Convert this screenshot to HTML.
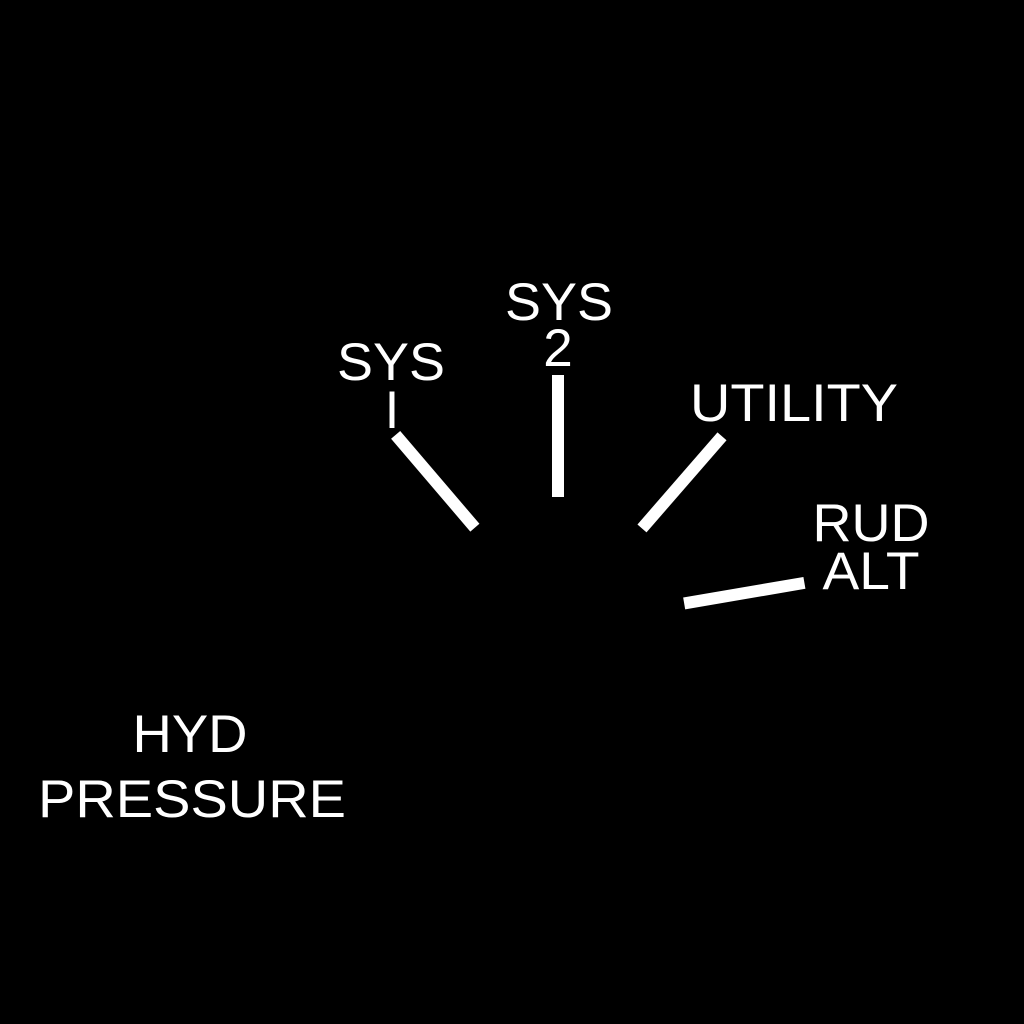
<!DOCTYPE html>
<html><head><meta charset="utf-8"><style>
html,body{margin:0;padding:0;background:#000;width:1024px;height:1024px;overflow:hidden}
svg{display:block}
text{font-family:"Liberation Sans",sans-serif;fill:#fff;font-size:53px;text-anchor:middle}
</style></head><body>
<svg id="chart" width="1024" height="1024" viewBox="0 0 1024 1024">
<rect width="1024" height="1024" fill="#000"/>
<g><text x="391" y="380" textLength="108" lengthAdjust="spacingAndGlyphs">SYS</text><text x="392" y="428">I</text></g>
<g><text x="559" y="320" textLength="108" lengthAdjust="spacingAndGlyphs">SYS</text><text x="558" y="366">2</text></g>
<text x="794" y="421" textLength="208" lengthAdjust="spacingAndGlyphs">UTILITY</text>
<g><text x="871" y="541" textLength="117" lengthAdjust="spacingAndGlyphs">RUD</text><text x="871" y="589" textLength="97" lengthAdjust="spacingAndGlyphs">ALT</text></g>
<g><text x="190" y="752" textLength="115" lengthAdjust="spacingAndGlyphs">HYD</text><text x="192" y="817" textLength="308" lengthAdjust="spacingAndGlyphs">PRESSURE</text></g>
<g id="needles"></g>
</svg>
<script>
const needleNames = ["sys1", "sys2", "utility", "rud-alt"];
const needleAngles = [-40.5, 0, 41, 80.3];
const cx = 558, cy = 625, rInner = 128, rOuter = 250;
const g = document.getElementById('needles');
needleAngles.forEach((a, i) => {
  const rad = a * Math.PI / 180;
  const l = document.createElementNS('http://www.w3.org/2000/svg', 'line');
  l.setAttribute('x1', cx + rInner * Math.sin(rad));
  l.setAttribute('y1', cy - rInner * Math.cos(rad));
  l.setAttribute('x2', cx + rOuter * Math.sin(rad));
  l.setAttribute('y2', cy - rOuter * Math.cos(rad));
  l.setAttribute('stroke', '#fff');
  l.setAttribute('stroke-width', '12');
  
  
  g.appendChild(l);
});
</script>
</body></html>
